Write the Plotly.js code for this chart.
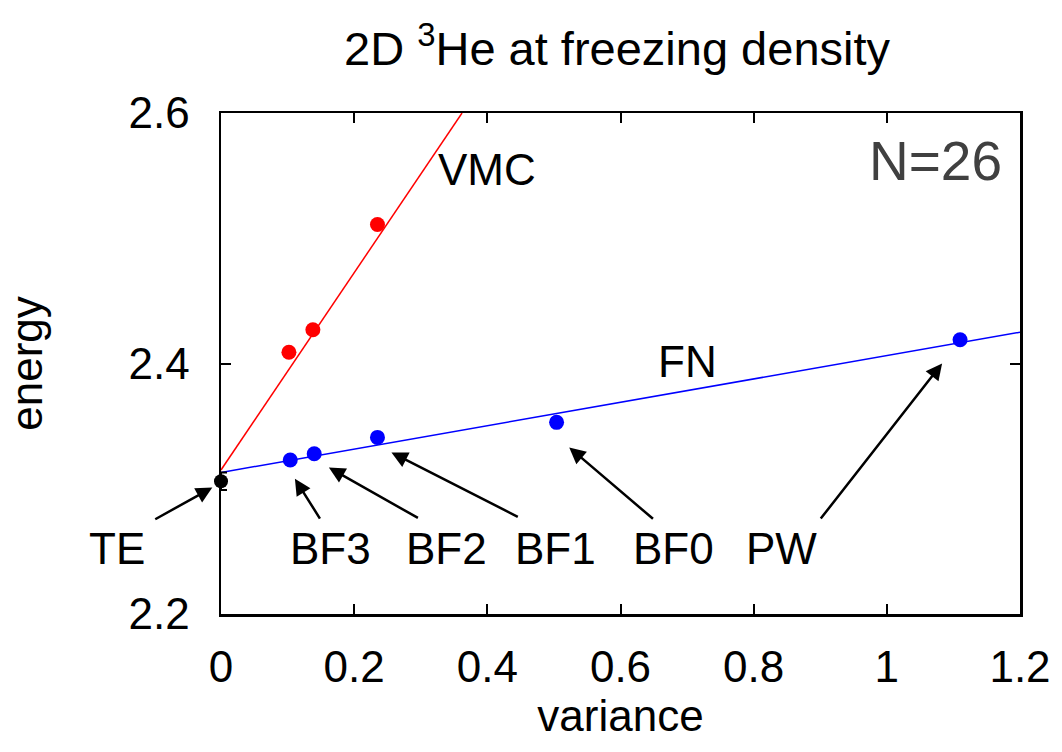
<!DOCTYPE html>
<html>
<head>
<meta charset="utf-8">
<script src="https://cdn.plot.ly/plotly-3.0.1.min.js"></script>
<style>html,body{margin:0;padding:0;background:#fff;}#chart{width:1062px;height:752px;}</style>
</head>
<body>
<div id="chart"></div>
<script>
// VMC energies vs variance
const vmcX = [0.102, 0.138, 0.235];
const vmcY = [2.409, 2.427, 2.511];
// VMC linear fit endpoints
const vmcFitX = [0.0, 0.362];
const vmcFitY = [2.315, 2.600];
// FN energies vs variance (BF3, BF2, BF1, BF0, PW)
const fnX = [0.104, 0.140, 0.235, 0.504, 1.110];
const fnY = [2.323, 2.328, 2.341, 2.353, 2.419];
// FN linear fit endpoints
const fnFitX = [0.0, 1.2];
const fnFitY = [2.313, 2.425];
// TE (extrapolated) point
const teX = [0.0];
const teY = [2.306];
const teErr = [0.007];
// labels with arrows
const labelNames = ["TE", "BF3", "BF2", "BF1", "BF0", "PW"];
const labelX = [-0.156, 0.165, 0.338, 0.502, 0.680, 0.842];
const labelY = [2.252, 2.252, 2.252, 2.252, 2.252, 2.252];
const arrowTailX = [-0.101, 0.150, 0.298, 0.448, 0.651, 0.899];
const arrowTailY = [2.275, 2.275, 2.276, 2.277, 2.275, 2.275];
const arrowHeadX = [-0.013, 0.111, 0.162, 0.256, 0.523, 1.083];
const arrowHeadY = [2.301, 2.308, 2.317, 2.329, 2.333, 2.400];
// axis ticks
const xTicks = [0, 0.2, 0.4, 0.6, 0.8, 1, 1.2];
const xTickText = ["0", "0.2", "0.4", "0.6", "0.8", "1", "1.2"];
const yTicks = [2.2, 2.4, 2.6];
const yTickText = ["2.2", "2.4", "2.6"];

const X_RANGE = [0, 1.2];
const Y_RANGE = [2.2, 2.6];
const FONT = "Liberation Sans, Arial, sans-serif";

// convert data coordinates to paper coordinates so that marks outside the
// axis range (TE label/arrow) are still drawn
const px = v => (v - X_RANGE[0]) / (X_RANGE[1] - X_RANGE[0]);
const py = v => (v - Y_RANGE[0]) / (Y_RANGE[1] - Y_RANGE[0]);

const traces = [
  {x: vmcFitX, y: vmcFitY, mode: "lines", line: {color: "#ff0000", width: 1.5}, hoverinfo: "skip"},
  {x: fnFitX, y: fnFitY, mode: "lines", line: {color: "#0000ff", width: 1.5}, hoverinfo: "skip"},
  {x: vmcX, y: vmcY, mode: "markers", marker: {color: "#ff0000", size: 15}},
  {x: fnX, y: fnY, mode: "markers", marker: {color: "#0000ff", size: 15}},
  {x: teX, y: teY, mode: "markers", marker: {color: "#000000", size: 14},
   error_y: {type: "data", array: teErr, color: "#000000", thickness: 2, width: 6},
   cliponaxis: false}
];

const plotW = 1062 - 221 - 42;
const plotH = 752 - 113 - 138;
const annotations = [];
for (let i = 0; i < labelNames.length; i++) {
  annotations.push({
    x: px(arrowHeadX[i]), y: py(arrowHeadY[i]), xref: "paper", yref: "paper",
    ax: (px(arrowTailX[i]) - px(arrowHeadX[i])) * plotW,
    ay: -(py(arrowTailY[i]) - py(arrowHeadY[i])) * plotH,
    axref: "pixel", ayref: "pixel",
    text: "", showarrow: true, arrowhead: 2, arrowsize: 1.3, arrowwidth: 2.5,
    arrowcolor: "#000000", standoff: 0, startstandoff: 0
  });
  annotations.push({
    x: px(labelX[i]), y: py(labelY[i]), xref: "paper", yref: "paper",
    text: labelNames[i], showarrow: false,
    font: {family: FONT, size: 44, color: "#000000"},
    xanchor: "center", yanchor: "middle"
  });
}
annotations.push({x: 0.40, y: 2.555, xref: "x", yref: "y", text: "VMC", showarrow: false,
  font: {family: FONT, size: 44, color: "#000000"}, xanchor: "center", yanchor: "middle"});
annotations.push({x: 0.70, y: 2.402, xref: "x", yref: "y", text: "FN", showarrow: false,
  font: {family: FONT, size: 44, color: "#000000"}, xanchor: "center", yanchor: "middle"});
annotations.push({x: 1.176, y: 2.562, xref: "x", yref: "y", text: "N=26", showarrow: false,
  font: {family: FONT, size: 55, color: "#404040"}, xanchor: "right", yanchor: "middle"});

const layout = {
  width: 1062, height: 752,
  margin: {l: 221, r: 42, t: 113, b: 138},
  paper_bgcolor: "#ffffff", plot_bgcolor: "#ffffff",
  showlegend: false,
  title: {text: "2D <sup>3</sup>He at freezing density", font: {family: FONT, size: 47, color: "#000000"},
          x: 0.581, xanchor: "center", y: 0.935, yanchor: "middle", yref: "container"},
  xaxis: {
    range: X_RANGE, tickvals: xTicks, ticktext: xTickText,
    ticks: "inside", ticklen: 10, tickwidth: 2, tickcolor: "#000",
    showline: true, linecolor: "#000", linewidth: 2.5, mirror: "allticks",
    showgrid: false, zeroline: false,
    tickfont: {family: FONT, size: 44, color: "#000"}, ticklabelstandoff: 13,
    title: {text: "variance", font: {family: FONT, size: 44, color: "#000"}, standoff: 6}
  },
  yaxis: {
    range: Y_RANGE, tickvals: yTicks, ticktext: yTickText,
    ticks: "inside", ticklen: 10, tickwidth: 2, tickcolor: "#000",
    showline: true, linecolor: "#000", linewidth: 2.5, mirror: "allticks",
    showgrid: false, zeroline: false,
    tickfont: {family: FONT, size: 44, color: "#000"}, ticklabelstandoff: 20,
    title: {text: "energy", font: {family: FONT, size: 44, color: "#000"}, standoff: 72}
  },
  annotations: annotations
};

Plotly.newPlot("chart", traces, layout, {displayModeBar: false, staticPlot: true});
</script>
</body>
</html>
